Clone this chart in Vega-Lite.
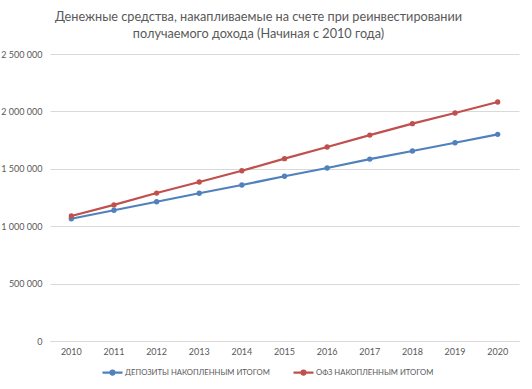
{
  "$schema": "https://vega.github.io/schema/vega-lite/v6.json",
  "width": 469,
  "height": 287,
  "autosize": {"type": "none"},
  "padding": {"left": 50, "top": 54, "right": 13, "bottom": 48},
  "background": "white",
  "title": {
    "text": ["Денежные средства, накапливаемые на счете при реинвестировании", "получаемого дохода (Начиная с 2010 года)"],
    "anchor": "middle",
    "dx": -26,
    "offset": 9,
    "font": "Lato",
    "fontSize": 12.7,
    "fontWeight": "normal",
    "color": "#595959",
    "lineHeight": 17
  },
  "data": {
    "values": [
      {"year": "2010", "series": "ДЕПОЗИТЫ НАКОПЛЕННЫМ ИТОГОМ", "value": 1065000},
      {"year": "2011", "series": "ДЕПОЗИТЫ НАКОПЛЕННЫМ ИТОГОМ", "value": 1139000},
      {"year": "2012", "series": "ДЕПОЗИТЫ НАКОПЛЕННЫМ ИТОГОМ", "value": 1213000},
      {"year": "2013", "series": "ДЕПОЗИТЫ НАКОПЛЕННЫМ ИТОГОМ", "value": 1287000},
      {"year": "2014", "series": "ДЕПОЗИТЫ НАКОПЛЕННЫМ ИТОГОМ", "value": 1359000},
      {"year": "2015", "series": "ДЕПОЗИТЫ НАКОПЛЕННЫМ ИТОГОМ", "value": 1435000},
      {"year": "2016", "series": "ДЕПОЗИТЫ НАКОПЛЕННЫМ ИТОГОМ", "value": 1507000},
      {"year": "2017", "series": "ДЕПОЗИТЫ НАКОПЛЕННЫМ ИТОГОМ", "value": 1585000},
      {"year": "2018", "series": "ДЕПОЗИТЫ НАКОПЛЕННЫМ ИТОГОМ", "value": 1655000},
      {"year": "2019", "series": "ДЕПОЗИТЫ НАКОПЛЕННЫМ ИТОГОМ", "value": 1727000},
      {"year": "2020", "series": "ДЕПОЗИТЫ НАКОПЛЕННЫМ ИТОГОМ", "value": 1800000},
      {"year": "2010", "series": "ОФЗ НАКОПЛЕННЫМ ИТОГОМ", "value": 1089000},
      {"year": "2011", "series": "ОФЗ НАКОПЛЕННЫМ ИТОГОМ", "value": 1185000},
      {"year": "2012", "series": "ОФЗ НАКОПЛЕННЫМ ИТОГОМ", "value": 1289000},
      {"year": "2013", "series": "ОФЗ НАКОПЛЕННЫМ ИТОГОМ", "value": 1385000},
      {"year": "2014", "series": "ОФЗ НАКОПЛЕННЫМ ИТОГОМ", "value": 1483000},
      {"year": "2015", "series": "ОФЗ НАКОПЛЕННЫМ ИТОГОМ", "value": 1588000},
      {"year": "2016", "series": "ОФЗ НАКОПЛЕННЫМ ИТОГОМ", "value": 1690000},
      {"year": "2017", "series": "ОФЗ НАКОПЛЕННЫМ ИТОГОМ", "value": 1794000},
      {"year": "2018", "series": "ОФЗ НАКОПЛЕННЫМ ИТОГОМ", "value": 1893000},
      {"year": "2019", "series": "ОФЗ НАКОПЛЕННЫМ ИТОГОМ", "value": 1986000},
      {"year": "2020", "series": "ОФЗ НАКОПЛЕННЫМ ИТОГОМ", "value": 2082000}
    ]
  },
  "mark": {"type": "line", "strokeWidth": 2.25, "point": {"filled": true, "size": 28}},
  "encoding": {
    "x": {
      "field": "year",
      "type": "ordinal",
      "scale": {"type": "band", "paddingInner": 0, "paddingOuter": 0},
      "axis": {
        "title": null,
        "labelAngle": 0,
        "ticks": false,
        "domainColor": "#d9d9d9",
        "domainWidth": 1,
        "labelPadding": 6,
        "grid": false
      }
    },
    "y": {
      "field": "value",
      "type": "quantitative",
      "scale": {"domain": [0, 2500000], "nice": false},
      "axis": {
        "title": null,
        "values": [0, 500000, 1000000, 1500000, 2000000, 2500000],
        "format": ",d",
        "ticks": false,
        "domain": false,
        "gridColor": "#d9d9d9",
        "labelPadding": 8
      }
    },
    "color": {
      "field": "series",
      "type": "nominal",
      "scale": {
        "domain": ["ДЕПОЗИТЫ НАКОПЛЕННЫМ ИТОГОМ", "ОФЗ НАКОПЛЕННЫМ ИТОГОМ"],
        "range": ["#4F81BD", "#C0504D"]
      },
      "legend": {
        "title": null,
        "orient": "none",
        "direction": "horizontal",
        "legendX": 51,
        "legendY": 307,
        "symbolType": "M-1,0L1,0M-0.2,0A0.2,0.2 0 1,0 0.2,0A0.2,0.2 0 1,0 -0.2,0",
        "symbolSize": 400,
        "symbolStrokeWidth": 2.25,
        "labelOffset": 1,
        "labelLimit": 400,
        "columnPadding": 19
      }
    }
  },
  "config": {
    "locale": {
      "number": {"decimal": ",", "thousands": " ", "grouping": [3], "currency": ["", ""]}
    },
    "view": {"stroke": null},
    "axis": {
      "labelFont": "Lato",
      "labelFontSize": 9,
      "labelColor": "#595959"
    },
    "legend": {
      "labelFont": "Lato",
      "labelFontSize": 7.7,
      "labelColor": "#595959"
    }
  }
}
